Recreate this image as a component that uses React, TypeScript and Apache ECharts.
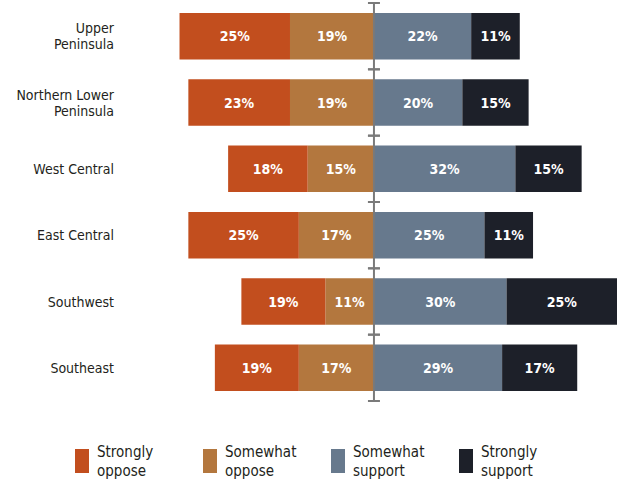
import React, { useEffect, useRef } from "react";
import * as echarts from "echarts";

const categories = [
  "Upper\nPeninsula",
  "Northern Lower\nPeninsula",
  "West Central",
  "East Central",
  "Southwest",
  "Southeast",
];
const stronglyOppose = [25, 23, 18, 25, 19, 19];
const somewhatOppose = [19, 19, 15, 17, 11, 17];
const somewhatSupport = [22, 20, 32, 25, 30, 29];
const stronglySupport = [11, 15, 15, 11, 25, 17];
const legendNames = ["Strongly\noppose", "Somewhat\noppose", "Somewhat\nsupport", "Strongly\nsupport"];
const colors = ["#C24E1E", "#B3773E", "#67798D", "#1D2029"];

const FONT = "'Liberation Sans Narrow', 'DejaVu Sans Condensed', 'Roboto', sans-serif";

export default function App() {
  const ref = useRef<HTMLDivElement>(null);
  useEffect(() => {
    const chart = echarts.init(ref.current!, null, { renderer: "svg" });
    const label = {
      show: true,
      position: "inside",
      color: "#ffffff",
      fontWeight: "bold",
      fontSize: 14,
      fontFamily: FONT,
      formatter: (p: any) => Math.abs(p.value) + "%",
    };
    const bar = (name: string, data: number[], color: string) => ({
      name,
      type: "bar",
      stack: "total",
      barWidth: "70%",
      data,
      itemStyle: { color },
      label,
    });
    chart.setOption({
      animation: false,
      textStyle: { fontFamily: FONT },
      grid: { left: 153, right: 4, top: 3, bottom: 82 },
      legend: {
        data: legendNames.map((n) => ({ name: n, icon: "rect" })),
        left: 75,
        top: 442,
        padding: 0,
        itemWidth: 14,
        itemHeight: 24,
        itemGap: 20,
        selectedMode: false,
        textStyle: {
          fontFamily: FONT,
          fontSize: 15,
          color: "#231f20",
          lineHeight: 19,
          width: 86,
          padding: [0, 0, 0, 3],
        },
      },
      xAxis: {
        type: "value",
        min: -50,
        max: 55,
        show: false,
      },
      yAxis: {
        type: "category",
        data: categories,
        inverse: true,
        axisLine: { show: false },
        axisTick: { show: false },
        axisLabel: {
          margin: 39,
          fontSize: 14,
          fontFamily: FONT,
          color: "#231f20",
          lineHeight: 16,
        },
      },
      series: [
        bar(legendNames[1], somewhatOppose.map((v) => -v), colors[1]),
        bar(legendNames[0], stronglyOppose.map((v) => -v), colors[0]),
        bar(legendNames[2], somewhatSupport, colors[2]),
        bar(legendNames[3], stronglySupport, colors[3]),
        {
          type: "custom",
          name: "axis",
          z: 5,
          silent: true,
          data: categories.map((_, i) => [0, i]),
          encode: { x: 0, y: 1 },
          renderItem: (params: any, api: any) => {
            const pt = api.coord([0, api.value(1)]);
            const h = api.size([0, 1])[1];
            const style = { stroke: "#7a7a7a", lineWidth: 2 };
            const top = pt[1] - h / 2;
            const bot = pt[1] + h / 2;
            return {
              type: "group",
              children: [
                { type: "line", shape: { x1: pt[0], y1: top, x2: pt[0], y2: bot }, style },
                { type: "line", shape: { x1: pt[0] - 6, y1: top, x2: pt[0] + 6, y2: top }, style },
                { type: "line", shape: { x1: pt[0] - 6, y1: bot, x2: pt[0] + 6, y2: bot }, style },
              ],
            };
          },
        },
      ],
    });
    return () => chart.dispose();
  }, []);
  return (
    <div
      ref={ref}
      style={{ position: "absolute", left: 0, top: 0, width: 621, height: 483, background: "#fff" }}
    />
  );
}
